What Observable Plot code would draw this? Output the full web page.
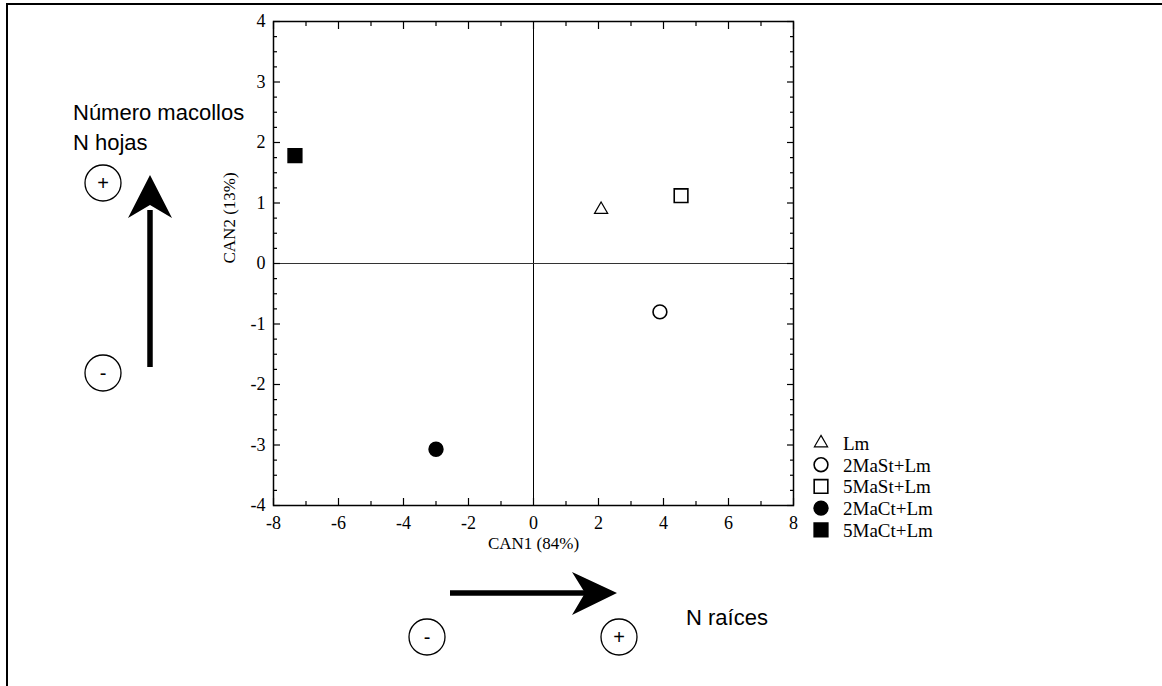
<!DOCTYPE html>
<html>
<head>
<meta charset="utf-8">
<script src="https://cdn.jsdelivr.net/npm/d3@7"></script>
<script src="https://cdn.jsdelivr.net/npm/@observablehq/plot@0.6"></script>
<style>
  html, body { margin: 0; padding: 0; background: white; }
  #wrap { position: relative; width: 1162px; height: 686px; overflow: hidden; }
  #box { position: absolute; left: 6px; top: 3px; width: 1200px; height: 720px;
         border-top: 2.7px solid black; border-left: 2.7px solid black; }
  #chart { position: absolute; left: 0; top: 0; }
</style>
</head>
<body>
<div id="wrap"><div id="box"></div><div id="chart"></div></div>
<script>
// Canonical discriminant scores of the treatment centroids
const groups = ["Lm", "2MaSt+Lm", "5MaSt+Lm", "2MaCt+Lm", "5MaCt+Lm"];
const can1 = [2.08, 3.89, 4.54, -3.0, -7.34];
const can2 = [0.89, -0.80, 1.12, -3.07, 1.785];
const shapes = ["triangle", "circle", "square", "circle", "square"];
const filled = [false, false, false, true, true];

// Axis ticks
const xLabelTicks = [-8, -6, -4, -2, 0, 2, 4, 6, 8];
const xMinorTicks = [-7, -5, -3, -1, 1, 3, 5, 7];
const yLabelTicks = [-4, -3, -2, -1, 0, 1, 2, 3, 4];
const yMinorTicks = d3.range(-4, 4.001, 0.25).filter(v => !Number.isInteger(v));

const xTitle = "CAN1 (84%)";
const yTitle = "CAN2 (13%)";

const symbolSize = {
  triangle: {r: 4.9, strokeWidth: 1.2},
  circle: {r: 6.9, strokeWidth: 1.6},
  square: {r: 7.7, strokeWidth: 1.6}
};

const serif = '"Liberation Serif", "Times New Roman", serif';
const sans = '"Liberation Sans", Arial, sans-serif';
const plainNumber = d => String(d);

function tickAxes(anchorX, anchorY) {
  return [
    Plot.axisX(xLabelTicks, {anchor: anchorX, tickSize: -7, fill: "none", label: null, strokeWidth: 1.2}),
    Plot.axisX(xMinorTicks, {anchor: anchorX, tickSize: -4, fill: "none", label: null, strokeWidth: 1.2}),
    Plot.axisY(yLabelTicks, {anchor: anchorY, tickSize: -7, fill: "none", label: null, strokeWidth: 1.2}),
    Plot.axisY(yMinorTicks, {anchor: anchorY, tickSize: -4, fill: "none", label: null, strokeWidth: 1.2})
  ];
}

const chart = Plot.plot({
  width: 1162,
  height: 686,
  marginLeft: 273,
  marginRight: 369,
  marginTop: 21,
  marginBottom: 181,
  x: {domain: [-8, 8]},
  y: {domain: [-4, 4]},
  style: {fontFamily: serif, fontSize: "18px", color: "black", background: "transparent", overflow: "visible"},
  marks: [
    Plot.ruleX([0], {stroke: "black", strokeWidth: 1}),
    Plot.ruleY([0], {stroke: "#333", strokeWidth: 1.2}),
    Plot.frame({stroke: "black", strokeWidth: 1.5}),
    Plot.axisX(xLabelTicks, {anchor: "bottom", tickSize: 0, tickPadding: 11, label: null, tickFormat: plainNumber, fontSize: 18}),
    Plot.axisY(yLabelTicks, {anchor: "left", tickSize: 0, tickPadding: 8, label: null, tickFormat: plainNumber, fontSize: 18}),
    ...tickAxes("bottom", "left"),
    ...tickAxes("top", "right"),
    Plot.text([xTitle], {frameAnchor: "bottom", dy: 43, fontSize: 17, fontFamily: serif}),
    Plot.text([yTitle], {frameAnchor: "left", dx: -44, rotate: -90, fontSize: 17, fontFamily: serif}),
    ...groups.map((g, i) => Plot.dot([i], {
      x: j => can1[j],
      y: j => can2[j],
      symbol: shapes[i],
      fill: filled[i] ? "black" : "white",
      stroke: "black",
      ...symbolSize[shapes[i]]
    }))
  ]
});
document.getElementById("chart").appendChild(chart);

// Legend and direction annotations drawn on top of the plot
const svg = d3.select(chart);
const symbolTypes = {triangle: d3.symbolTriangle, circle: d3.symbolCircle, square: d3.symbolSquare};
const legend = svg.append("g").attr("transform", "translate(821,443)").attr("text-anchor", "start");
groups.forEach((g, i) => {
  const row = legend.append("g").attr("transform", `translate(0,${i * 21.7})`);
  const s = symbolSize[shapes[i]];
  row.append("path")
    .attr("d", d3.symbol(symbolTypes[shapes[i]], Math.PI * s.r * s.r)())
    .attr("fill", filled[i] ? "black" : "white")
    .attr("stroke", "black")
    .attr("stroke-width", s.strokeWidth);
  row.append("text")
    .attr("x", 22).attr("y", 7)
    .attr("font-family", serif).attr("font-size", 19)
    .attr("fill", "black")
    .text(g);
});

const notes = svg.append("g").attr("font-family", sans).attr("fill", "black").attr("text-anchor", "start");
notes.append("text").attr("x", 73).attr("y", 120).attr("font-size", 22).text("Número macollos");
notes.append("text").attr("x", 73).attr("y", 150).attr("font-size", 22).text("N hojas");
notes.append("text").attr("x", 686).attr("y", 625).attr("font-size", 22).text("N raíces");

function signCircle(cx, cy, sign) {
  notes.append("circle").attr("cx", cx).attr("cy", cy).attr("r", 18)
    .attr("fill", "white").attr("stroke", "black").attr("stroke-width", 1.3);
  notes.append("text").attr("x", cx).attr("y", cy).attr("dy", "0.35em")
    .attr("text-anchor", "middle").attr("font-size", 20).text(sign);
}
signCircle(103, 183, "+");
signCircle(103, 373, "-");
signCircle(427, 637, "-");
signCircle(619, 637, "+");

// vertical arrow
notes.append("line").attr("x1", 150).attr("y1", 367).attr("x2", 150).attr("y2", 210)
  .attr("stroke", "black").attr("stroke-width", 5.5);
notes.append("path").attr("d", "M150,175 L172,218 L150,205 L128,218 Z");
// horizontal arrow
notes.append("line").attr("x1", 450).attr("y1", 593).attr("x2", 590).attr("y2", 593)
  .attr("stroke", "black").attr("stroke-width", 5.5);
notes.append("path").attr("d", "M617,593 L572,572 L585,593 L572,615 Z");
</script>
</body>
</html>
